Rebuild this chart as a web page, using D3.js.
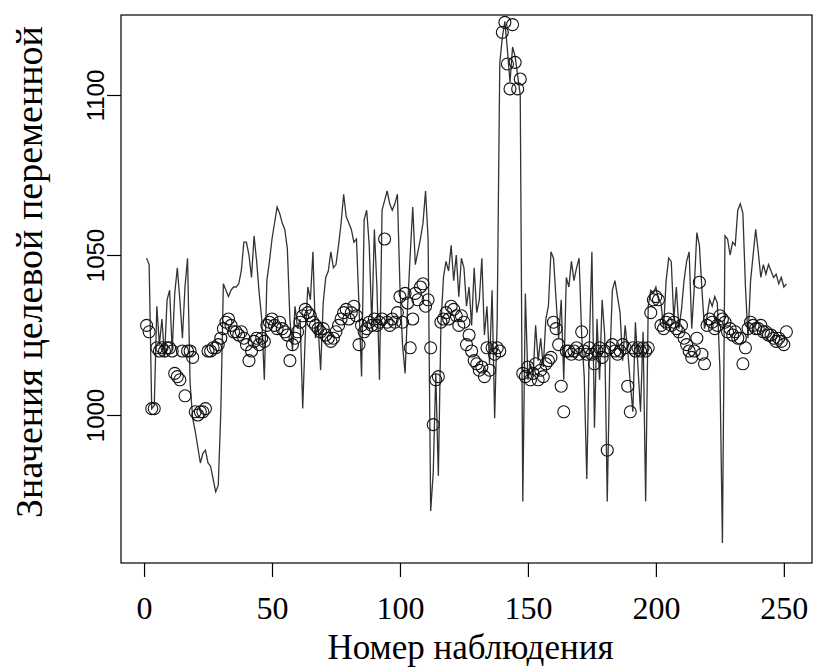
<!DOCTYPE html>
<html>
<head>
<meta charset="utf-8">
<script src="https://cdn.jsdelivr.net/npm/d3@7"></script>
<style>
body { margin: 0; background: #fff; }
</style>
</head>
<body>
<div id="canvas"></div>
<script>
var width = 817,
	height = 668;

// observed values (line)
var observed = [
	1049, 1047, 1002, 1003, 1034, 1022, 1030, 1018, 1036, 1039,
	1020, 1038, 1046, 1036, 1024, 1040, 1049, 1010, 999, 995,
	990, 985, 988, 989, 985, 984, 980, 976, 978, 1001,
	1041, 1039, 1037, 1039, 1040, 1040, 1041, 1045, 1054, 1054,
	1050, 1043, 1056, 1048, 1038, 1030, 1011, 1042, 1048, 1055,
	1060, 1065, 1063, 1060, 1058, 1052, 1030, 1020, 1034, 1027,
	1030, 1002, 1025, 1040, 1036, 1051, 1024, 1028, 1014, 1035,
	1043, 1045, 1051, 1046, 1047, 1053, 1060, 1069, 1062, 1060,
	1058, 1054, 1055, 1034, 1012, 1061, 1064, 1053, 1028, 1058,
	1040, 1011, 1064, 1067, 1070, 1066, 1064, 1066, 1069, 1040,
	1022, 1013, 1034, 1050, 1065, 1047, 1051, 1055, 1060, 1070,
	1055, 970, 982, 1013, 981, 1028, 1043, 1048, 1045, 1053,
	1042, 1050, 1037, 1049, 1046, 1034, 1040, 1028, 1046, 1032,
	1036, 1049, 1025, 1034, 1016, 1039, 999, 1030, 1110, 1118,
	1123, 1114, 1104, 1115, 1112, 1106, 1100, 973, 1038, 1011,
	1016, 1012, 1028, 1017, 1024, 1015, 1030, 1034, 1051, 1049,
	1036, 1024, 1036, 1011, 1043, 1040, 1048, 1042, 1046, 1049,
	1025, 1012, 980, 1022, 1051, 996, 1030, 1011, 1036, 1025,
	973, 1017, 1039, 1042, 1037, 1032, 1017, 1028, 1020, 1010,
	1001, 1029, 1015, 1001, 1026, 973, 1034, 1039, 1038, 1040,
	1036, 1035, 1027, 1042, 1049, 1048, 1030, 1040, 1027, 1033,
	1042, 1048, 1051, 1027, 1040, 1057, 1053, 1039, 1027, 1031,
	1036, 1034, 1037, 1035, 1015, 960, 1056, 1055, 1050, 1054,
	1053, 1064, 1066, 1063, 1040, 1024, 1042, 1050, 1058, 1051,
	1043, 1047, 1044, 1047, 1045, 1043, 1044, 1041, 1043, 1040,
	1041
];

// fitted values (circles)
var fitted = [
	1028, 1026, 1002, 1002, 1021, 1020, 1021, 1020, 1021, 1021,
	1020, 1013, 1012, 1011, 1020, 1006, 1020, 1020, 1018, 1001,
	1000, 1001, 1001, 1002, 1020, 1020, 1021, 1021, 1022, 1024,
	1027, 1029, 1030, 1028, 1026, 1026, 1025, 1026, 1024, 1022,
	1017, 1020, 1023, 1024, 1022, 1024, 1023, 1028, 1029, 1030,
	1028, 1027, 1029, 1027, 1026, 1025, 1017, 1022, 1024, 1026,
	1029, 1031, 1033, 1032, 1031, 1029, 1028, 1027, 1026, 1027,
	1025, 1024, 1023, 1024, 1026, 1028, 1030, 1032, 1033, 1030,
	1032, 1034, 1031, 1022, 1028, 1026, 1027, 1029, 1028, 1030,
	1028, 1029, 1030, 1055, 1029, 1028, 1030, 1029, 1032, 1037,
	1029, 1038, 1035, 1021, 1030, 1038, 1036, 1040, 1041, 1034,
	1036, 1021, 997, 1011, 1012, 1029, 1030, 1032, 1030, 1034,
	1033, 1031, 1028, 1031, 1029, 1022, 1025, 1020, 1017, 1016,
	1014, 1015, 1012, 1021, 1014, 1021, 1019, 1021, 1020, 1119.6,
	1122.7, 1109.7, 1101.9, 1122, 1110.2, 1101.9, 1105, 1013, 1012, 1015,
	1011, 1013, 1016, 1011, 1014, 1012, 1016, 1017, 1018, 1029,
	1027, 1022, 1009, 1001, 1020, 1020, 1019, 1020, 1021, 1019,
	1026, 1020, 1019, 1021, 1019, 1016, 1020, 1021, 1018, 1020,
	989, 1021, 1022, 1020, 1019, 1020, 1022, 1021, 1009, 1001,
	1021, 1020, 1021, 1020, 1021, 1020, 1021, 1032, 1036, 1037,
	1036, 1028, 1027, 1029, 1030, 1028, 1029, 1027, 1026, 1028,
	1024, 1022, 1020, 1018, 1020, 1024, 1041.5, 1019, 1016, 1028,
	1030, 1029, 1027, 1028, 1031, 1030, 1029, 1026, 1027, 1025,
	1026, 1024, 1024, 1016, 1021, 1027, 1029, 1028, 1027, 1027,
	1028, 1026, 1026, 1025, 1025, 1024, 1023, 1024, 1023, 1022,
	1026
];

var xTicks = [0, 50, 100, 150, 200, 250];
var yTicks = [1000, 1050, 1100];

var xLabel = "Номер наблюдения";
var yLabel = "Значения целевой переменной";

var plotLeft = 121,
	plotRight = 812,
	plotTop = 15,
	plotBottom = 563;

var serif = "'Liberation Serif', 'DejaVu Serif', serif";
var sans = "'Liberation Sans', Arial, sans-serif";

var svg = d3.select("#canvas").append("svg")
	.attr("width", width)
	.attr("height", height)
	.style("background-color", "#ffffff")

var x = d3.scaleLinear()
	.domain([-9, 261])
	.range([plotLeft, plotRight])

var y = d3.scaleLinear()
	.domain([953.75, 1125])
	.range([plotBottom, plotTop])

svg.append("clipPath")
	.attr("id", "plotClip")
	.append("rect")
	.attr("x", plotLeft)
	.attr("y", plotTop)
	.attr("width", plotRight - plotLeft)
	.attr("height", plotBottom - plotTop)

var plotArea = svg.append("g")
	.attr("clip-path", "url(#plotClip)")

var line = d3.line()
	.x(function(d, i){ return x(i + 1); })
	.y(function(d){ return y(d); })

plotArea.append("path")
	.datum(observed)
	.attr("d", line)
	.attr("fill", "none")
	.attr("stroke", "#333")
	.attr("stroke-width", 1.3)

plotArea.selectAll(".fit")
	.data(fitted)
	.enter()
	.append("circle")
	.classed("fit", true)
	.attr("cx", function(d, i){ return x(i + 1); })
	.attr("cy", function(d){ return y(d); })
	.attr("r", 6)
	.attr("fill", "none")
	.attr("stroke", "#111")
	.attr("stroke-width", 1.1)

// box
svg.append("rect")
	.attr("x", plotLeft)
	.attr("y", plotTop)
	.attr("width", plotRight - plotLeft)
	.attr("height", plotBottom - plotTop)
	.attr("fill", "none")
	.attr("stroke", "#000")
	.attr("stroke-width", 1.2)

var xAxis = svg.append("g")
	.attr("transform", "translate(0," + plotBottom + ")")
	.call(d3.axisBottom(x).tickValues(xTicks).tickSize(14).tickPadding(19).tickFormat(d3.format("d")))

xAxis.select(".domain").remove()
xAxis.selectAll("line").attr("stroke", "#000").attr("stroke-width", 1.2)
xAxis.selectAll("text")
	.style("font-family", serif)
	.style("font-size", "32px")
	.attr("fill", "#000")

var yAxis = svg.append("g")
	.attr("transform", "translate(" + plotLeft + ",0)")
	.call(d3.axisLeft(y).tickValues(yTicks).tickSize(14).tickFormat(d3.format("d")))

yAxis.select(".domain").remove()
yAxis.selectAll("line").attr("stroke", "#000").attr("stroke-width", 1.2)
yAxis.selectAll("text")
	.attr("x", 0)
	.attr("y", -17)
	.attr("dy", 0)
	.attr("transform", "rotate(-90)")
	.attr("text-anchor", "middle")
	.style("font-family", sans)
	.style("font-size", "24px")
	.attr("fill", "#000")

svg.append("text")
	.attr("x", (plotLeft + plotRight) / 2 + 4)
	.attr("y", 659)
	.attr("text-anchor", "middle")
	.style("font-family", serif)
	.style("font-size", "35px")
	.text(xLabel)

svg.append("text")
	.attr("transform", "translate(42,272) rotate(-90)")
	.attr("text-anchor", "middle")
	.style("font-family", serif)
	.style("font-size", "38px")
	.text(yLabel)
</script>
</body>
</html>
